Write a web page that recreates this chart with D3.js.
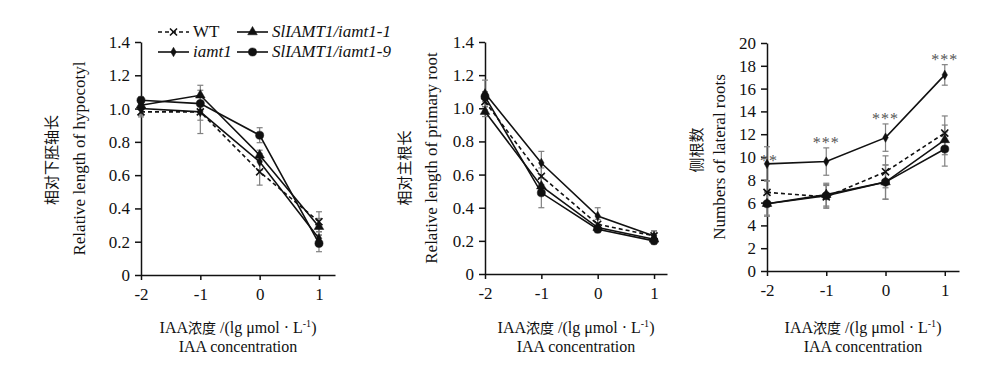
<!DOCTYPE html>
<html>
<head>
<meta charset="utf-8">
<script src="https://cdn.jsdelivr.net/npm/d3@7"></script>
<style>
  html, body { margin: 0; padding: 0; background: #fff; }
  svg { display: block; }
  svg text { font-family: "Times New Roman", Times, "Liberation Serif", "Noto Serif", "DejaVu Serif", serif; fill: #111; }
  svg text.cjk, svg tspan.cjk { font-family: "Noto Sans CJK SC", sans-serif; }
</style>
</head>
<body>
<svg id="chart" width="1000" height="374"></svg>
<script>
// x categories (lg umol/L)
const concentrations = [-2, -1, 0, 1]
const seriesNames = ['WT', 'iamt1', 'SlIAMT1/iamt1-1', 'SlIAMT1/iamt1-9']

// relative length of hypocotyl
const hypoWT = [0.98, 0.98, 0.62, 0.32]
const hypoIamt1 = [1.00, 0.98, 0.68, 0.22]
const hypoLine1 = [1.02, 1.08, 0.72, 0.29]
const hypoLine9 = [1.05, 1.03, 0.84, 0.19]
const hypoErrWT = [0.03, 0.13, 0.08, 0.06]
const hypoErrIamt1 = [0.04, 0.05, 0.05, 0.04]
const hypoErrLine1 = [0.02, 0.06, 0.03, 0.05]
const hypoErrLine9 = [0.02, 0.04, 0.045, 0.05]

// relative length of primary root
const rootWT = [1.04, 0.59, 0.30, 0.23]
const rootIamt1 = [1.09, 0.67, 0.35, 0.23]
const rootLine1 = [0.98, 0.53, 0.28, 0.21]
const rootLine9 = [1.07, 0.49, 0.27, 0.20]
const rootErrWT = [0.05, 0.05, 0.03, 0.03]
const rootErrIamt1 = [0.08, 0.07, 0.05, 0.03]
const rootErrLine1 = [0.03, 0.05, 0.02, 0.02]
const rootErrLine9 = [0.03, 0.09, 0.02, 0.02]

// numbers of lateral roots
const latWT = [6.9, 6.5, 8.7, 12.1]
const latIamt1 = [9.4, 9.6, 11.7, 17.2]
const latLine1 = [5.9, 6.7, 7.8, 11.5]
const latLine9 = [5.9, 6.6, 7.8, 10.7]
const latErrWT = [1.0, 1.0, 1.4, 1.5]
const latErrIamt1 = [1.5, 1.2, 1.2, 0.9]
const latErrLine1 = [1.0, 1.0, 1.5, 1.3]
const latErrLine9 = [1.1, 1.0, 1.5, 1.5]
const latSignif = ['**', '***', '***', '***']

const relTicks = [0, 0.2, 0.4, 0.6, 0.8, 1.0, 1.2, 1.4]
const latTicks = [0, 2, 4, 6, 8, 10, 12, 14, 16, 18, 20]

const SERIF = '"Times New Roman", Times, "Liberation Serif", "Noto Serif", "DejaVu Serif", serif'
const CJK = '"Noto Sans CJK SC", sans-serif'

const svg = d3.select('#chart')

const styles = [
  { dash: '4,3', symbol: d3.symbolX, size: 34, fill: 'none' },
  { dash: null, symbol: d3.symbolDiamond, size: 26, fill: '#111' },
  { dash: null, symbol: d3.symbolTriangle, size: 40, fill: '#111' },
  { dash: null, symbol: d3.symbolCircle, size: 52, fill: '#111' },
]

const panels = [
  {
    left: 141, right: 335, top: 42, bottom: 275, xMax: 1.27,
    yMax: 1.4, ticks: relTicks, fmt: d => d === 0 ? '0' : d3.format('.1f')(d),
    series: [hypoWT, hypoIamt1, hypoLine1, hypoLine9],
    errors: [hypoErrWT, hypoErrIamt1, hypoErrLine1, hypoErrLine9],
    cnLabel: '相对下胚轴长', enLabel: 'Relative length of hypocotyl',
    cnX: 52, enX: 79, cnY: 160,
  },
  {
    left: 485, right: 667, top: 42, bottom: 274, xMax: 1.23,
    yMax: 1.4, ticks: relTicks, fmt: d => d === 0 ? '0' : d3.format('.1f')(d),
    series: [rootWT, rootIamt1, rootLine1, rootLine9],
    errors: [rootErrWT, rootErrIamt1, rootErrLine1, rootErrLine9],
    cnLabel: '相对主根长', enLabel: 'Relative length of primary root',
    cnX: 405, enX: 431, cnY: 168,
  },
  {
    left: 767, right: 959, top: 43, bottom: 271, xMax: 1.24,
    yMax: 20, ticks: latTicks, fmt: d => String(d),
    series: [latWT, latIamt1, latLine1, latLine9],
    errors: [latErrWT, latErrIamt1, latErrLine1, latErrLine9],
    cnLabel: '侧根数', enLabel: 'Numbers of lateral roots',
    cnX: 697, enX: 719, cnY: 150,
    signif: latSignif,
  },
]

panels.forEach(p => drawPanel(p))
drawLegend()

function drawPanel(p) {
  let g = svg.append('g')
  let x = d3.scaleLinear().domain([-2, p.xMax]).range([p.left, p.right])
  let y = d3.scaleLinear().domain([0, p.yMax]).range([p.bottom, p.top])

  // axes
  let yAxis = d3.axisLeft(y).tickValues(p.ticks).tickFormat(p.fmt)
    .tickSize(6).tickSizeOuter(0).tickPadding(5)
  let xAxis = d3.axisBottom(x).tickValues(concentrations).tickFormat(d => String(d))
    .tickSize(5).tickSizeOuter(0).tickPadding(8)

  g.append('g').attr('transform', `translate(${p.left},0)`).call(yAxis)
  g.append('g').attr('transform', `translate(0,${p.bottom})`).call(xAxis)
  g.selectAll('.domain, .tick line').attr('stroke', '#111').attr('stroke-width', 1.5)
  g.selectAll('g').attr('font-family', null)
  g.selectAll('.tick text')
    .style('font-family', SERIF).style('font-size', '17px').attr('fill', '#111')

  // error bars
  p.series.forEach((vals, si) => {
    let eg = g.append('g').attr('stroke', '#808080').attr('stroke-width', 1.2)
    vals.forEach((v, i) => {
      let e = p.errors[si][i]
      let cx = x(concentrations[i])
      eg.append('line').attr('x1', cx).attr('x2', cx).attr('y1', y(v - e)).attr('y2', y(v + e))
      eg.append('line').attr('x1', cx - 3).attr('x2', cx + 3).attr('y1', y(v - e)).attr('y2', y(v - e))
      eg.append('line').attr('x1', cx - 3).attr('x2', cx + 3).attr('y1', y(v + e)).attr('y2', y(v + e))
    })
  })

  // lines + markers
  let line = d3.line().x((d, i) => x(concentrations[i])).y(d => y(d))
  p.series.forEach((vals, si) => {
    let st = styles[si]
    g.append('path').attr('d', line(vals))
      .attr('fill', 'none').attr('stroke', '#111').attr('stroke-width', 1.6)
      .attr('stroke-dasharray', st.dash)
    g.selectAll(null).data(vals).join('path')
      .attr('transform', (d, i) => `translate(${x(concentrations[i])},${y(d)})`)
      .attr('d', d3.symbol(st.symbol, st.size)())
      .attr('fill', st.fill).attr('stroke', '#111').attr('stroke-width', st.fill === 'none' ? 1.6 : 0.5)
  })

  // significance (sits just above the iamt1 error bar)
  if (p.signif) {
    let top = p.series[1]
    g.selectAll('text.sig').data(p.signif).join('text')
      .attr('class', 'sig')
      .attr('x', (d, i) => x(concentrations[i]) + (i === 0 ? 2 : 0))
      .attr('y', (d, i) => y(top[i] + p.errors[1][i]) + (i === 0 ? 19 : 0))
      .attr('text-anchor', 'middle')
      .style('font-family', SERIF).style('font-size', '16px').style('fill', '#555')
      .style('letter-spacing', '1px')
      .text(d => d)
  }

  // y labels
  g.append('text').attr('class', 'cjk')
    .attr('transform', `translate(${p.cnX},${p.cnY}) rotate(-90)`)
    .attr('text-anchor', 'middle').attr('dy', '0.35em')
    .style('font-family', CJK).style('font-size', '15px').text(p.cnLabel)
  g.append('text')
    .attr('transform', `translate(${p.enX},${(p.top + p.bottom) / 2}) rotate(-90)`)
    .attr('text-anchor', 'middle').attr('dy', '0.35em')
    .style('font-family', SERIF).style('font-size', '17px').text(p.enLabel)

  // x labels
  let mid = (p.left + p.right) / 2
  let xl = g.append('text').attr('x', mid).attr('y', 333).attr('text-anchor', 'middle')
    .style('font-family', SERIF).style('font-size', '16px')
  xl.append('tspan').text('IAA')
  xl.append('tspan').attr('class', 'cjk').style('font-family', CJK)
    .style('font-size', '14px').text('浓度')
  xl.append('tspan').text(' /(lg μmol · L')
  xl.append('tspan').attr('dy', -6).style('font-size', '10px').text('-1')
  xl.append('tspan').attr('dy', 6).text(')')
  g.append('text').attr('x', mid).attr('y', 352).attr('text-anchor', 'middle')
    .style('font-family', SERIF).style('font-size', '16px').text('IAA concentration')
}

function drawLegend() {
  let lg = svg.append('g')
  let items = [
    { x: 158, y: 32 }, { x: 158, y: 52 }, { x: 237, y: 32 }, { x: 237, y: 52 },
  ]
  seriesNames.forEach((name, si) => {
    let st = styles[si]
    let it = items[si]
    lg.append('line').attr('x1', it.x).attr('x2', it.x + 31).attr('y1', it.y).attr('y2', it.y)
      .attr('stroke', '#111').attr('stroke-width', 1.6).attr('stroke-dasharray', st.dash)
    lg.append('path').attr('transform', `translate(${it.x + 15.5},${it.y})`)
      .attr('d', d3.symbol(st.symbol, st.size)())
      .attr('fill', st.fill).attr('stroke', '#111').attr('stroke-width', st.fill === 'none' ? 1.6 : 0.5)
    lg.append('text').attr('x', it.x + 35).attr('y', it.y + 5)
      .style('font-family', SERIF)
      .style('font-size', '17px').style('font-style', si === 0 ? 'normal' : 'italic')
      .text(name)
  })
}
</script>
</body>
</html>
